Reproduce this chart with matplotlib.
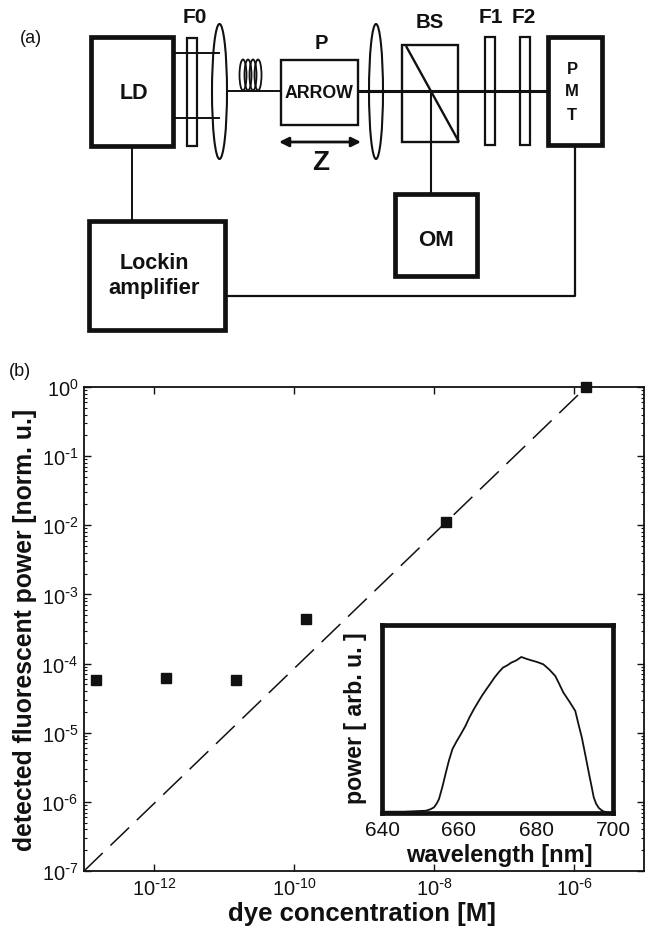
import matplotlib
matplotlib.use('Agg')
import matplotlib.pyplot as plt
from matplotlib.patches import Rectangle, Ellipse

plt.rcParams['font.family'] = ['Liberation Sans', 'DejaVu Sans']
plt.rcParams['mathtext.default'] = 'regular'

W, H = 649, 929
INK = '#111111'

# --- data ---
conc = [1.5e-13, 1.5e-12, 1.5e-11, 1.5e-10, 1.5e-8, 1.5e-6]
power = [5.7e-5, 6.2e-5, 5.7e-5, 4.4e-4, 1.1e-2, 1.0]
fit_conc = [1e-13, 1.5e-6]
fit_power = [1e-7, 1.0]

xtick_vals = [1e-12, 1e-10, 1e-8, 1e-6]
xtick_labels = [r'$10^{\text{-}12}$', r'$10^{\text{-}10}$', r'$10^{\text{-}8}$', r'$10^{\text{-}6}$']
ytick_vals = [1e-7, 1e-6, 1e-5, 1e-4, 1e-3, 1e-2, 1e-1, 1e0]
ytick_labels = [r'$10^{\text{-}7}$', r'$10^{\text{-}6}$', r'$10^{\text{-}5}$', r'$10^{\text{-}4}$',
                r'$10^{\text{-}3}$', r'$10^{\text{-}2}$', r'$10^{\text{-}1}$', r'$10^{0}$']

wavelength = [640, 645.7, 651.4, 652.6, 653.5, 654.2, 654.8, 655.7, 656.6, 657.4, 658.3, 659.4,
              660.5, 661.6, 662.7, 663.8, 664.9, 666, 667.1, 668.2, 669.2, 670.3, 671.4, 672.5,
              673.6, 674.9, 676.2, 677.5, 678.8, 680.3, 681.9, 683.5, 685, 686, 687.1, 688.6,
              690.2, 691, 691.9, 692.8, 693.7, 694.4, 695, 695.6, 696.3, 697.2, 698.1, 699.8]
spectrum = [.007, .007, .012, .02, .03, .05, .074, .14, .216, .28, .34, .382,
            .42, .46, .508, .55, .588, .625, .658, .69, .72, .748, .773, .785,
            .8, .812, .83, .82, .812, .803, .791, .762, .729, .688, .641, .595,
            .543, .475, .402, .31, .216, .145, .083, .05, .027, .012, .004, 0]

# schematic parts, in image pixels: x0, x1, y0, y1, line width
boxes = [(91, 173, 38, 147, 3.4), (89, 225, 222, 331, 3.4), (395, 477, 195, 277, 3.4),
         (548, 602, 38, 146, 3.4), (281, 358, 61, 126, 1.7), (402, 458, 46, 143, 1.7),
         (187, 197, 39, 147, 1.6), (485, 495, 38, 146, 1.6), (520, 530, 38, 146, 1.6)]
lenses = [(219.5, 92.5, 15, 135), (376, 92.5, 14, 135)]
wires = [([227, 281], [92, 92], 1.4), ([358, 548], [92, 92], 2.2),
         ([406, 459], [47, 143], 1.7), ([431, 431], [92, 195], 1.5),
         ([132, 132], [147, 222], 1.4), ([225, 575, 575], [297, 297, 146], 1.6)]
coil_x = [243, 248, 253, 258]
labels = [('F0', 195, 17, 15), ('P', 321, 43, 14.5), ('BS', 430, 22, 14.7), ('F1', 491, 17, 15),
          ('F2', 524, 17, 15), ('LD', 134, 93, 15.5), ('ARROW', 319, 93, 12.8),
          ('P', 572, 69, 12), ('M', 572, 91, 12), ('T', 572, 115, 12),
          ('OM', 436, 240, 16), ('Lockin', 154, 263, 15.5), ('amplifier', 154, 288, 15.8),
          ('Z', 321, 163, 20)]


def px_axes(fig, x0, x1, y0, y1):
    return fig.add_axes([x0 / W, 1 - y1 / H, (x1 - x0) / W, (y1 - y0) / H])


fig = plt.figure(figsize=(W / 100, H / 100), dpi=100)

# --- (a) schematic, drawn on a full figure axes in image pixels ---
bg = fig.add_axes([0, 0, 1, 1])
bg.set_xlim(0, W)
bg.set_ylim(H, 0)
bg.axis('off')

for x0, x1, y0, y1, lw in boxes:
    bg.add_patch(Rectangle((x0, y0), x1 - x0, y1 - y0, fill=False, ec=INK, lw=lw))
for xs, ys, lw in wires:
    bg.plot(xs, ys, color=INK, lw=lw, solid_capstyle='butt')
for cx, cy, w, h in lenses:
    bg.add_patch(Ellipse((cx, cy), w, h, fc='white', ec=INK, lw=1.5, zorder=1.5))
bg.plot([173, 219], [54, 54], color=INK, lw=1.4, zorder=2)
bg.plot([173, 219], [119, 119], color=INK, lw=1.4, zorder=2)
bg.plot([369, 383], [92, 92], color=INK, lw=2.2, zorder=2)
for cx in coil_x:
    bg.add_patch(Ellipse((cx, 76), 7, 31, fill=False, ec=INK, lw=1.3))
bg.annotate('', xy=(279, 143), xytext=(361, 143),
            arrowprops=dict(arrowstyle='<|-|>', color=INK, lw=2, mutation_scale=14,
                            shrinkA=0, shrinkB=0))
for txt, x, y, size in labels:
    bg.text(x, y, txt, fontsize=size, fontweight='bold', color=INK, ha='center', va='center')
bg.text(20, 38, '(a)', fontsize=13, color=INK, ha='left', va='center')
bg.text(9, 371, '(b)', fontsize=13, color=INK, ha='left', va='center')

# --- (b) main log plot ---
ax = px_axes(fig, 84, 644, 388, 872)
ax.set_xscale('log')
ax.set_yscale('log')
ax.set_xlim(1e-13, 1e-5)
ax.set_ylim(1e-7, 1e0)
ax.plot(fit_conc, fit_power, color=INK, lw=1.1, dashes=(17, 7))
ax.plot(conc, power, 's', color=INK, ms=7, clip_on=False, zorder=5)
ax.set_xticks(xtick_vals)
ax.set_xticklabels(xtick_labels)
ax.set_xticks([], minor=True)
ax.set_yticks(ytick_vals)
ax.set_yticklabels(ytick_labels)
ax.tick_params(which='major', direction='in', top=True, right=True, length=5, width=1,
               labelsize=14.5, color=INK, labelcolor=INK, pad=4)
ax.tick_params(which='minor', direction='in', left=True, right=True, length=2.5, width=0.8, color=INK)
ax.set_xlabel('dye concentration [M]', fontsize=18.5, fontweight='bold', color=INK, va='center')
ax.set_ylabel('detected fluorescent power [norm. u.]', fontsize=17.8, fontweight='bold', color=INK, va='center')
ax.xaxis.set_label_coords(0.496, -0.087)
ax.yaxis.set_label_coords(-0.105, 0.5)
for s in ax.spines.values():
    s.set_linewidth(1.3)
    s.set_color(INK)

# --- inset spectrum ---
inset = px_axes(fig, 382, 613, 626, 814)
inset.plot(wavelength, spectrum, color=INK, lw=1.3)
inset.set_xlim(640, 700)
inset.set_ylim(0, 1)
inset.set_xticks([640, 660, 680, 700])
inset.set_yticks([])
inset.tick_params(axis='x', direction='in', length=0, labelsize=15, labelcolor=INK, pad=5)
inset.set_xlabel('wavelength [nm]', fontsize=17, fontweight='bold', color=INK, va='center')
inset.set_ylabel('power [ arb. u. ]', fontsize=16.7, fontweight='bold', color=INK, va='center')
inset.xaxis.set_label_coords(0.51, -0.223)
inset.yaxis.set_label_coords(-0.115, 0.51)
for s in inset.spines.values():
    s.set_linewidth(3.4)
    s.set_color(INK)

fig.savefig('out.png', dpi=100)
